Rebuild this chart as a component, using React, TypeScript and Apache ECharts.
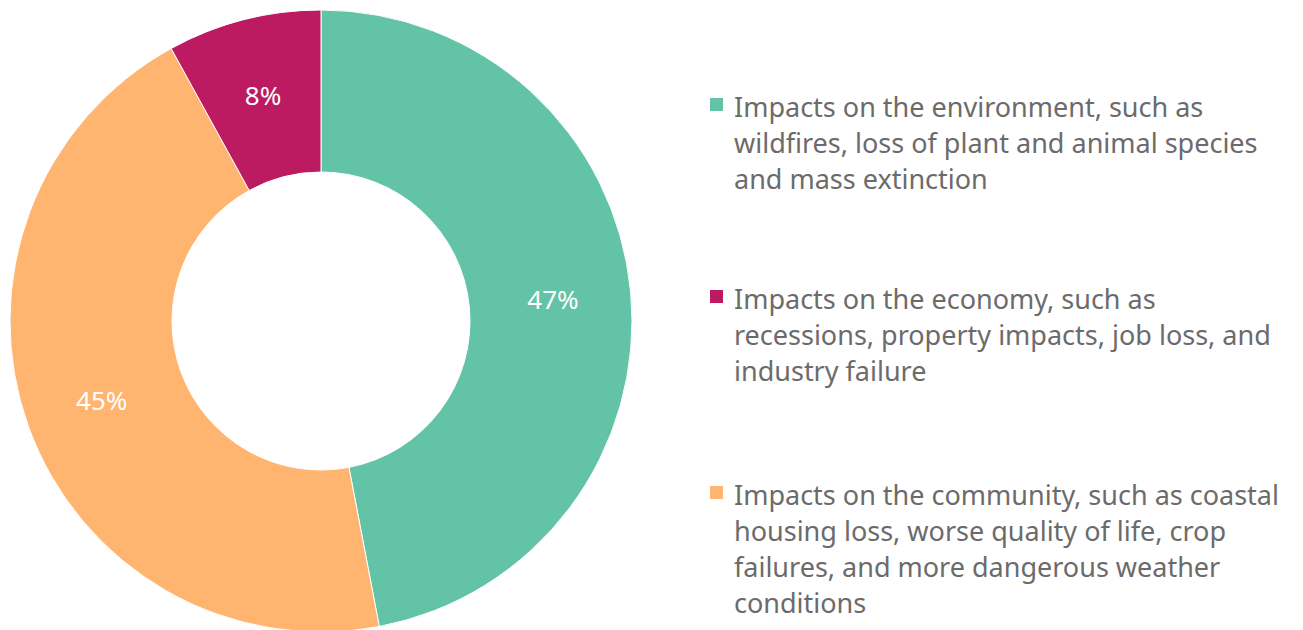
import React, { useEffect, useRef } from "react";
import * as echarts from "echarts";

const categories = [
  "Impacts on the environment, such as wildfires, loss of plant and animal species and mass extinction",
  "Impacts on the community, such as coastal housing loss, worse quality of life, crop failures, and more dangerous weather conditions",
  "Impacts on the economy, such as recessions, property impacts, job loss, and industry failure",
];
const values = [47, 45, 8];
const colors = ["#62C3A6", "#FFB470", "#BC1B62"];

// legend order and wrapped lines as shown in the reference
const legendOrder = [0, 2, 1];
const legendLines = [
  ["Impacts on the environment, such as", "wildfires, loss of plant and animal species", "and mass extinction"],
  ["Impacts on the community, such as coastal", "housing loss, worse quality of life, crop", "failures, and more dangerous weather", "conditions"],
  ["Impacts on the economy, such as", "recessions, property impacts, job loss, and", "industry failure"],
];
const legendTops = [88, 280, 476];

export default function App() {
  const ref = useRef<HTMLDivElement>(null);
  useEffect(() => {
    if (!ref.current) return;
    const chart = echarts.init(ref.current, null, { renderer: "svg" });
    const graphics: any[] = [];
    legendOrder.forEach((idx, k) => {
      const top = legendTops[k];
      graphics.push({
        type: "rect",
        left: 710,
        top: top + 10,
        shape: { width: 13, height: 13 },
        style: { fill: colors[idx] },
      });
      graphics.push({
        type: "text",
        left: 734,
        top: top,
        style: {
          text: legendLines[idx].join("\n"),
          fill: "#6b6b6b",
          font: '27px "Noto Sans", sans-serif',
          lineHeight: 36,
        },
      });
    });
    chart.setOption({
      animation: false,
      series: [
        {
          type: "pie",
          center: [321, 321],
          radius: [149, 311],
          startAngle: 90,
          clockwise: true,
          itemStyle: { borderColor: "#ffffff", borderWidth: 1 },
          label: {
            show: true,
            position: "inside",
            formatter: "{c}%",
            color: "#ffffff",
            fontSize: 26,
            fontFamily: '"Noto Sans", sans-serif',
          },
          labelLine: { show: false },
          data: categories.map((name, i) => ({
            name,
            value: values[i],
            itemStyle: { color: colors[i] },
          })),
        },
      ],
      graphic: graphics,
    });
    return () => chart.dispose();
  }, []);
  return (
    <div
      ref={ref}
      style={{ position: "fixed", left: 0, top: 0, width: 1303, height: 630, background: "#fff" }}
    />
  );
}
